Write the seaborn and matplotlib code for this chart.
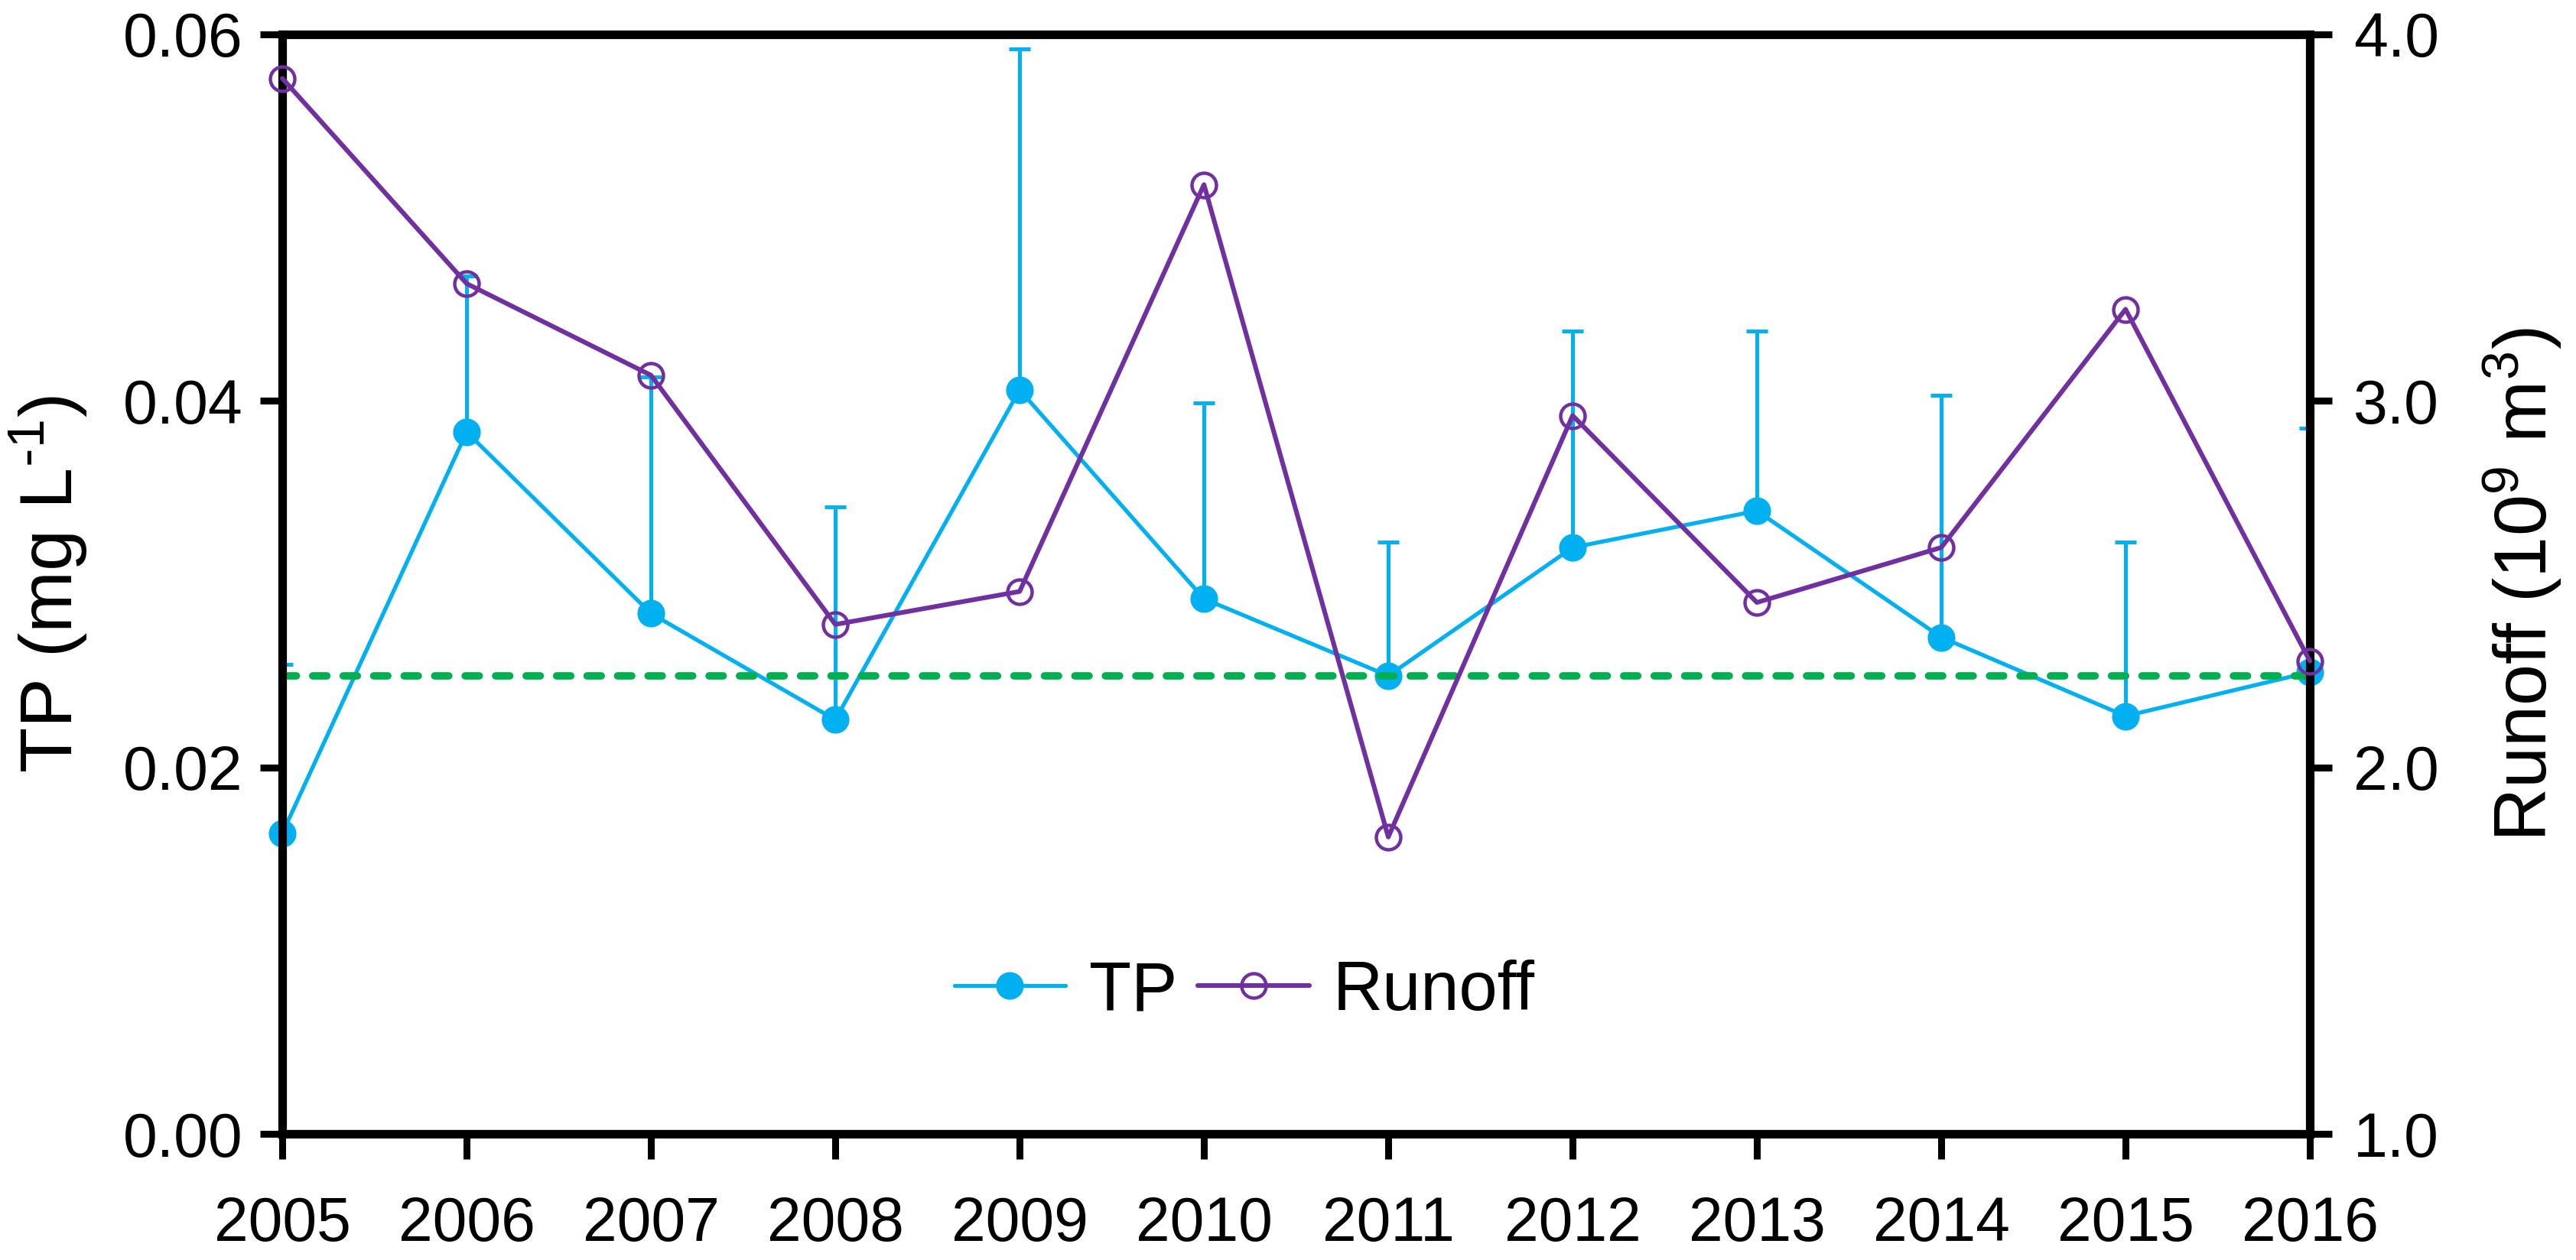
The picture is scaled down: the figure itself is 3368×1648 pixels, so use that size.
"""TP concentration and runoff, 2005-2016, on twin y-axes."""

import matplotlib

matplotlib.use("Agg")
import matplotlib.pyplot as plt  # noqa: E402
import numpy as np  # noqa: E402
import pandas as pd  # noqa: E402
import seaborn as sns  # noqa: E402
from matplotlib.ticker import FormatStrFormatter  # noqa: E402

years = [2005, 2006, 2007, 2008, 2009, 2010, 2011, 2012, 2013, 2014, 2015, 2016]
tp = [0.0164, 0.0383, 0.0284, 0.0226, 0.0406, 0.0292, 0.0250, 0.0320, 0.0340, 0.0271, 0.0228, 0.0252]
tp_upper = [0.0256, 0.0468, 0.0413, 0.0342, 0.0592, 0.0399, 0.0323, 0.0438, 0.0438, 0.0403, 0.0323, 0.0385]
runoff = [3.88, 3.32, 3.07, 2.39, 2.48, 3.59, 1.81, 2.96, 2.45, 2.60, 3.25, 2.29]
tp_standard = 0.025

tp_ticks = [0.00, 0.02, 0.04, 0.06]
runoff_ticks = [1.0, 2.0, 3.0, 4.0]

BLUE = "#00B0F0"
PURPLE = "#7030A0"
GREEN = "#00B050"

sns.set_theme(style="ticks")
plt.rcParams["font.family"] = ["Liberation Sans", "DejaVu Sans"]
plt.rcParams["mathtext.default"] = "regular"
plt.rcParams["text.color"] = "black"
plt.rcParams["axes.labelcolor"] = "black"

df = pd.DataFrame({"year": years, "tp": tp, "upper": tp_upper, "runoff": runoff})

fig = plt.figure(figsize=(33.68, 16.48), dpi=100)
ax1 = fig.add_axes([0.1096, 0.1001, 0.7871, 0.8726])
ax2 = ax1.twinx()

# TP: upper error bars, then the line
err_up = df["upper"].to_numpy() - df["tp"].to_numpy()
ax1.errorbar(df["year"], df["tp"], yerr=[np.zeros(len(df)), err_up], fmt="none",
             ecolor=BLUE, elinewidth=3.6, capsize=10, capthick=3.6, zorder=2)
sns.lineplot(data=df, x="year", y="tp", ax=ax1, color=BLUE, linewidth=3.8,
             marker="o", markersize=26, markeredgewidth=0, label="TP",
             legend=False, clip_on=False, zorder=3)

# reference standard
ax1.plot(years, [tp_standard] * len(years), color=GREEN, linewidth=7,
         linestyle=(0, (1.9, 2.2)), dash_capstyle="round", zorder=4)

# Runoff on the right axis
sns.lineplot(data=df, x="year", y="runoff", ax=ax2, color=PURPLE, linewidth=4.4,
             marker="o", markersize=23, markerfacecolor="none",
             markeredgecolor=PURPLE, markeredgewidth=3.2, label="Runoff",
             legend=False, clip_on=False, zorder=3)

ax1.set_xlim(2005, 2016)
ax1.set_xticks(years)
ax1.set_ylim(0, 0.06)
ax1.set_yticks(tp_ticks)
ax1.yaxis.set_major_formatter(FormatStrFormatter("%.2f"))
ax2.set_ylim(1.0, 4.0)
ax2.set_yticks(runoff_ticks)
ax2.yaxis.set_major_formatter(FormatStrFormatter("%.1f"))

ax1.set_xlabel("")
ax2.set_xlabel("")
ax1.set_ylabel(r"TP (mg L$^{\text{-}1}$)", fontsize=70, labelpad=32)
ax2.set_ylabel(r"Runoff (10$^{9}$ m$^{3}$)", fontsize=70, labelpad=40)

for ax in (ax1, ax2):
    for spine in ax.spines.values():
        spine.set_linewidth(8)
        spine.set_color("black")

ax1.tick_params(axis="x", direction="out", length=24, width=6.5, labelsize=58,
                pad=34, colors="black")
ax1.tick_params(axis="y", direction="out", length=21, width=6.5, labelsize=58,
                pad=16, colors="black")
ax2.tick_params(axis="y", direction="out", length=21, width=6.5, labelsize=58,
                pad=20, colors="black")

h1, l1 = ax1.get_legend_handles_labels()
h2, l2 = ax2.get_legend_handles_labels()
ax2.legend(h1 + h2, l1 + l2, loc="center", bbox_to_anchor=(0.4745, 0.129),
           ncol=2, frameon=False, fontsize=65, handlelength=1.61,
           handletextpad=0.34, columnspacing=0.3, borderpad=0)

fig.savefig("out.png", dpi=100)
plt.close(fig)
